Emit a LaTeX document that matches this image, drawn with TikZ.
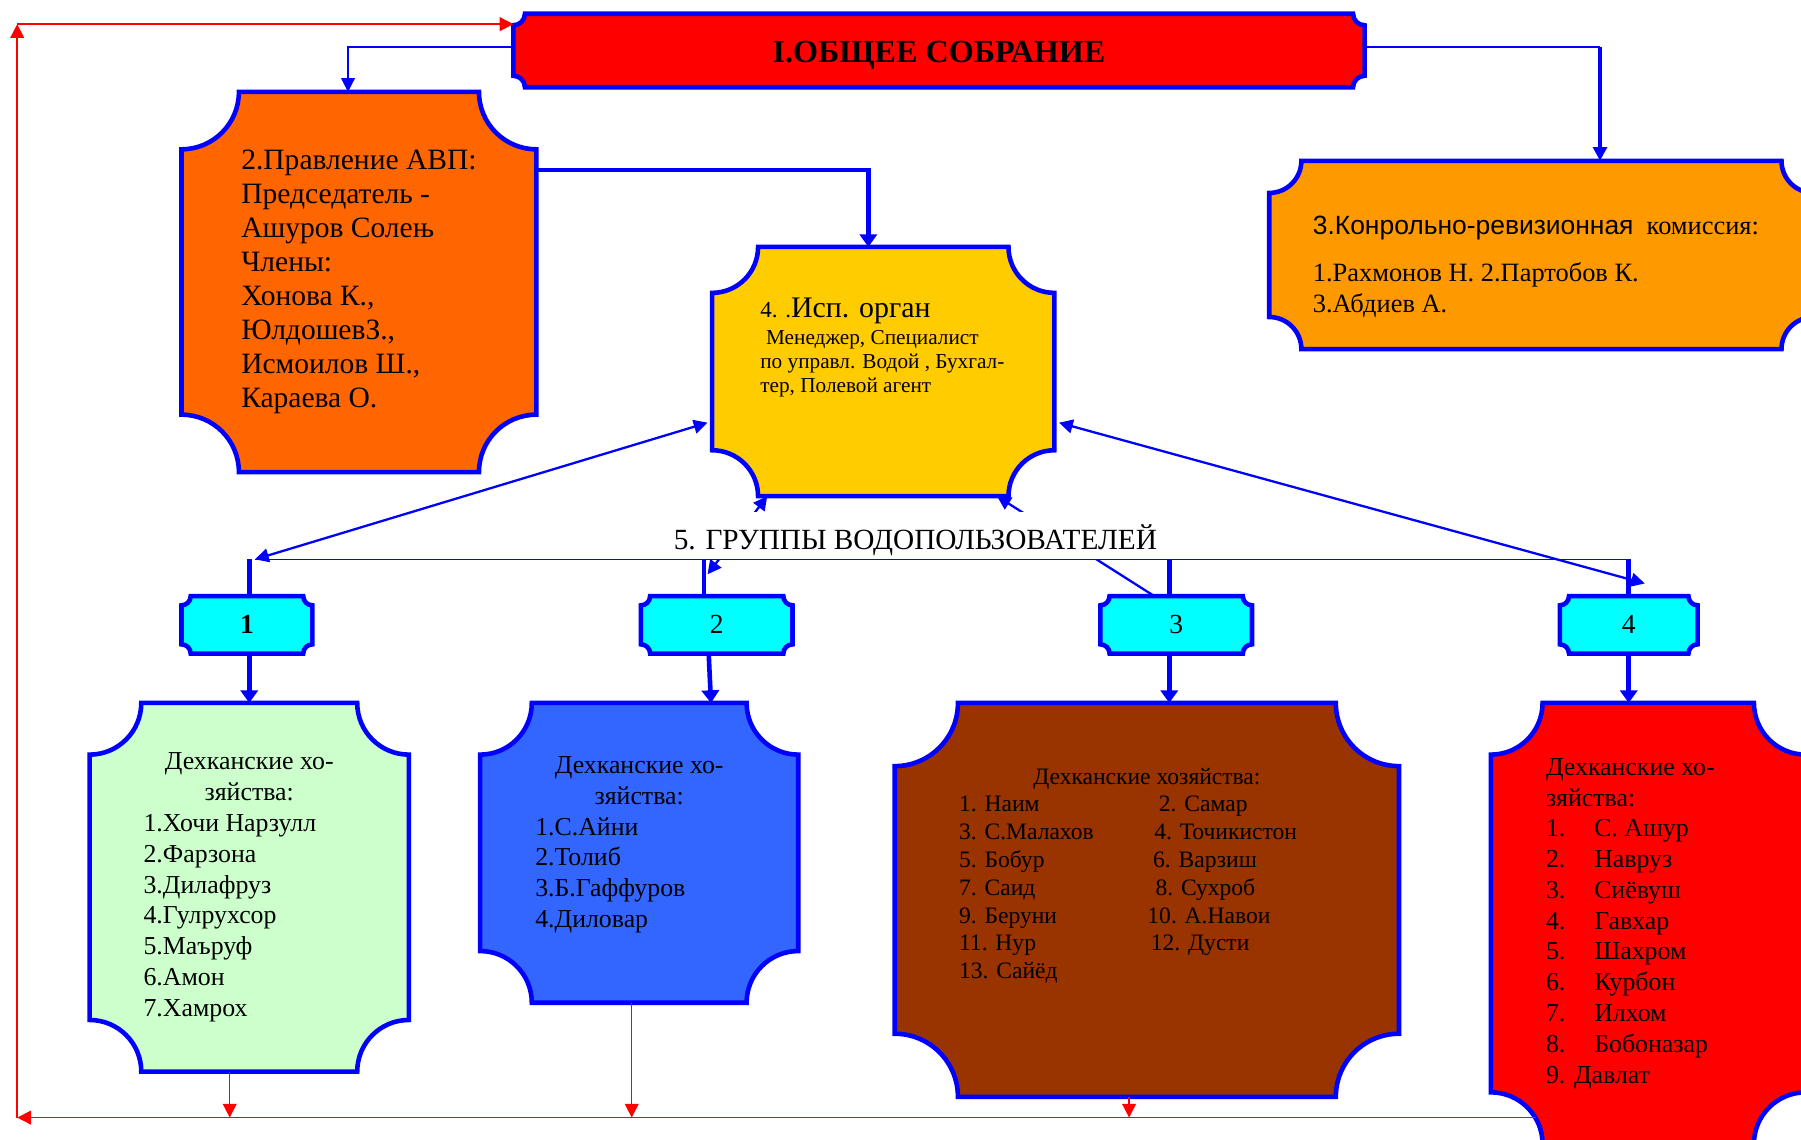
\documentclass[tikz,border=0pt]{standalone}
\usepackage{fontspec}
\setmainfont{Liberation Serif}
\newfontfamily\arialFont{Liberation Sans}
\usetikzlibrary{arrows.meta}
\usetikzlibrary{backgrounds}

\definecolor{plaqueBlue}{HTML}{0000FF}
\definecolor{titleRed}{HTML}{FF0000}
\definecolor{boardOrange}{HTML}{FF6600}
\definecolor{auditOrange}{HTML}{FF9900}
\definecolor{execYellow}{HTML}{FFCC00}
\definecolor{groupCyan}{HTML}{00FFFF}
\definecolor{farmGreen}{HTML}{CCFFCC}
\definecolor{farmBlue}{HTML}{3366FF}
\definecolor{farmBrown}{HTML}{993300}
\definecolor{farmRed}{HTML}{FF0000}
\definecolor{loopRed}{HTML}{FF0000}

\newcommand{\drawPlaque}[3]{%
	\path[plaqueStyle, fill=#3] ([xshift=#2]#1.north west) -- ([xshift=-#2]#1.north east)
		arc[start angle=180, end angle=270, radius=#2] -- ([yshift=#2]#1.south east)
		arc[start angle=90, end angle=180, radius=#2] -- ([xshift=#2]#1.south west)
		arc[start angle=0, end angle=90, radius=#2] -- ([yshift=-#2]#1.north west)
		arc[start angle=-90, end angle=0, radius=#2] -- cycle;}

\begin{document}
\begin{tikzpicture}[x = 1pt, y = 1pt, >={Triangle[length=12pt, width=12pt]}]
	\tikzstyle{boxStyle}=[shape = rectangle, inner sep = 0pt, outer sep = 0pt]
	\tikzstyle{plaqueStyle}=[draw = plaqueBlue, line width = 4pt]
	\tikzstyle{groupStyle}=[boxStyle, minimum height = 50pt, font = \fontsize{24}{28}\selectfont]
	\tikzstyle{farmStyle}=[boxStyle, align = flush left, font = \fontsize{22.5}{26.8}\selectfont]
	\tikzstyle{thinLink}=[draw = plaqueBlue, line width = 1.3pt]
	\tikzstyle{wideLink}=[draw = plaqueBlue, line width = 2pt]
	\tikzstyle{thickLink}=[draw = plaqueBlue, line width = 4pt]
	\tikzstyle{loopLink}=[draw = loopRed, line width = 1.3pt]
	\tikzstyle{thickArrow}=[-{Triangle[length=11pt, width=15pt]}]
	\useasboundingbox (0,0) rectangle (1568,-992.5);
	\node[boxStyle, minimum width = 741pt, minimum height = 64pt, font = \fontsize{28}{32}\selectfont\bfseries] (n1) at (817.5,-44) {\raisebox{-4pt}[\height][\depth]{I.ОБЩЕЕ СОБРАНИЕ}};
	\node[boxStyle, minimum width = 309pt, minimum height = 331pt, align = left, font = \fontsize{25.7}{29.6}\selectfont] (n2) at (312.5,-245.5) {2.Правление АВП:\\Председатель -\\Ашуров Солењ\\Члены:\\Хонова К.,\\ЮлдошевЗ.,\\Исмоилов Ш.,\\Караева О.};
	\node[boxStyle, minimum width = 474pt, minimum height = 164pt, text width = 398pt, align = flush left, font = \fontsize{23}{27}\selectfont] (n3) at (1342,-222) {\mbox{}\\[10pt]\mbox{{\arialFont 3.Конрольно-ревизионная}\ \ комиссия:}\\[14pt]\mbox{1.Рахмонов Н. 2.Партобов К.}\\3.Абдиев А.};
	\node[boxStyle, minimum width = 298pt, minimum height = 217pt, text width = 214pt, align = flush left, font = \fontsize{26}{30}\selectfont] (n4) at (769,-323.5) {{\fontsize{20}{24}\selectfont 4. .}Исп. орган\par\vspace{2pt}\fontsize{18.5}{21}\selectfont\hspace*{5pt}Менеджер, Специалист\\\mbox{по управл. Водой , Бухгал-}\\тер, Полевой агент\\[16pt]\mbox{}};
	\node[groupStyle, minimum width = 114pt] (g1) at (215,-544) {\textbf{1}};
	\node[groupStyle, minimum width = 132pt] (g2) at (624,-544) {2};
	\node[groupStyle, minimum width = 132pt] (g3) at (1024,-544) {3};
	\node[groupStyle, minimum width = 120pt] (g4) at (1418,-544) {4};
	\node[farmStyle, minimum width = 278pt, minimum height = 321pt, text width = 184pt] (f1) at (217,-772.5) {\makebox[\linewidth]{Дехканские хо-}\\\makebox[\linewidth]{зяйства:}\\1.Хочи Нарзулл\\2.Фарзона\\3.Дилафруз\\4.Гулрухсор\\5.Маъруф\\6.Амон\\7.Хамрох};
	\node[farmStyle, minimum width = 277pt, minimum height = 261pt, text width = 181pt] (f2) at (556.5,-742.5) {\makebox[\linewidth]{Дехканские хо-}\\\makebox[\linewidth]{зяйства:}\\1.С.Айни\\2.Толиб\\3.Б.Гаффуров\\4.Диловар\\[-8pt]\mbox{}};
	\node[farmStyle, minimum width = 439pt, minimum height = 343pt, text width = 327pt, font = \fontsize{20.5}{24.2}\selectfont] (f3) at (998.5,-783.5) {\makebox[\linewidth]{Дехканские хозяйства:}\\\makebox[174pt][l]{1. Наим}2. Самар\\\makebox[170pt][l]{3. С.Малахов}4. Точикистон\\\makebox[169pt][l]{5. Бобур}6. Варзиш\\\makebox[171pt][l]{7. Саид}8. Сухроб\\\makebox[164pt][l]{9. Беруни}10. А.Навои\\\makebox[167pt][l]{11. Нур}12. Дусти\\13. Сайёд\\[22pt]\mbox{}};
	\node[farmStyle, minimum width = 274pt, minimum height = 384pt, text width = 178pt] (f4) at (1435,-804) {Дехканские хо-\\зяйства:\\\makebox[42pt][l]{1.}С. Ашур\\\makebox[42pt][l]{2.}Навруз\\\makebox[42pt][l]{3.}Сиёвуш\\\makebox[42pt][l]{4.}Гавхар\\\makebox[42pt][l]{5.}Шахром\\\makebox[42pt][l]{6.}Курбон\\\makebox[42pt][l]{7.}Илхом\\\makebox[42pt][l]{8.}Бобоназар\\9. Давлат};
	\begin{scope}[on background layer]
		\drawPlaque{n1}{10pt}{titleRed}
		\drawPlaque{n2}{50pt}{boardOrange}
		\drawPlaque{n3}{28pt}{auditOrange}
		\drawPlaque{n4}{40pt}{execYellow}
		\drawPlaque{g1}{8pt}{groupCyan}
		\drawPlaque{g2}{8pt}{groupCyan}
		\drawPlaque{g3}{8pt}{groupCyan}
		\drawPlaque{g4}{8pt}{groupCyan}
		\drawPlaque{f1}{45pt}{farmGreen}
		\drawPlaque{f2}{45pt}{farmBlue}
		\drawPlaque{f3}{55pt}{farmBrown}
		\drawPlaque{f4}{45pt}{farmRed}
	\end{scope}
	\coordinate (m1) at ([yshift=3pt]n1.east);
	\coordinate (m2) at ([xshift=51pt]n3.north);
	\coordinate (busW) at (222,-487);
	\coordinate (busE) at (1420,-487);
	\coordinate (tipE) at (1432,-508);
	\coordinate (tipG2) at (616,-500);
	\coordinate (r1) at ([xshift=2pt]g1.north);
	\coordinate (r2) at ([xshift=-11pt]g2.north);
	\coordinate (r3) at ([xshift=-6pt]g3.north);
	\coordinate (r4) at (g4.north);
	\coordinate (loopSE) at (1337,-973);
	\coordinate (loopSW) at (15,-973);
	\coordinate (loopNW) at (15,-21);
	\coordinate (d1) at ([xshift=-17pt]f1.south);
	\coordinate (d2) at ([xshift=-6.5pt]f2.south);
	\coordinate (d3) at ([xshift=-15.5pt]f3.south);
	\draw[thinLink, ->] ([yshift=3pt]n1.west) -| ([xshift=-9.5pt]n2.north);
	\draw[thinLink] (m1) -- (m1 -| m2);
	\draw[draw = plaqueBlue, line width = 3pt, ->] (m1 -| m2) -- (m2);
	\draw[thickLink, thickArrow] ([yshift=97.5pt]n2.east) -| ([xshift=-13pt]n4.north);
	\draw[wideLink, <->] ([xshift=-4pt, yshift=-44.5pt]n4.west) -- (busW);
	\draw[wideLink, <->] ([xshift=4pt, yshift=-44.5pt]n4.east) -- (tipE);
	\draw[wideLink, <->] ([xshift=-101pt]n4.south) -- (tipG2);
	\draw[wideLink, <-] ([xshift=99pt]n4.south) -- ([xshift=-19pt]g3.north);
	\node[fill = white, inner xsep = 6pt, inner ysep = 0pt, minimum height = 41pt, font = \fontsize{25.5}{30}\selectfont] (n5) at (797,-466.5) {\raisebox{-3.5pt}[\height][\depth]{5. ГРУППЫ ВОДОПОЛЬЗОВАТЕЛЕЙ}};
	\draw[thinLink] (busW) -- (busE);
	\draw[thickLink] (r1) -- (r1 |- busW);
	\draw[thickLink] (r2) -- (r2 |- busW);
	\draw[thickLink] (r3) -- (r3 |- busW);
	\draw[thickLink] (r4) -- (r4 |- busW);
	\draw[thickLink, thickArrow] ([xshift=2pt]g1.south) -- (f1.north);
	\draw[thickLink, thickArrow] ([xshift=-7pt]g2.south) -- ([xshift=62.5pt]f2.north);
	\draw[thickLink, thickArrow] ([xshift=-6pt]g3.south) -- ([xshift=19.5pt]f3.north);
	\draw[thickLink, thickArrow] (g4.south) -- ([xshift=-17pt]f4.north);
	\draw[loopLink, ->] (d1) -- (d1 |- loopSW);
	\draw[loopLink, ->] (d2) -- (d2 |- loopSW);
	\draw[loopLink, ->] (d3) -- (d3 |- loopSW);
	\draw[loopLink, ->] (loopSE) -- (loopSW);
	\draw[loopLink, ->] (loopSW) -- (loopNW);
	\draw[loopLink, ->] (loopNW) -- ([yshift=23pt]n1.west);
\end{tikzpicture}
\end{document}
